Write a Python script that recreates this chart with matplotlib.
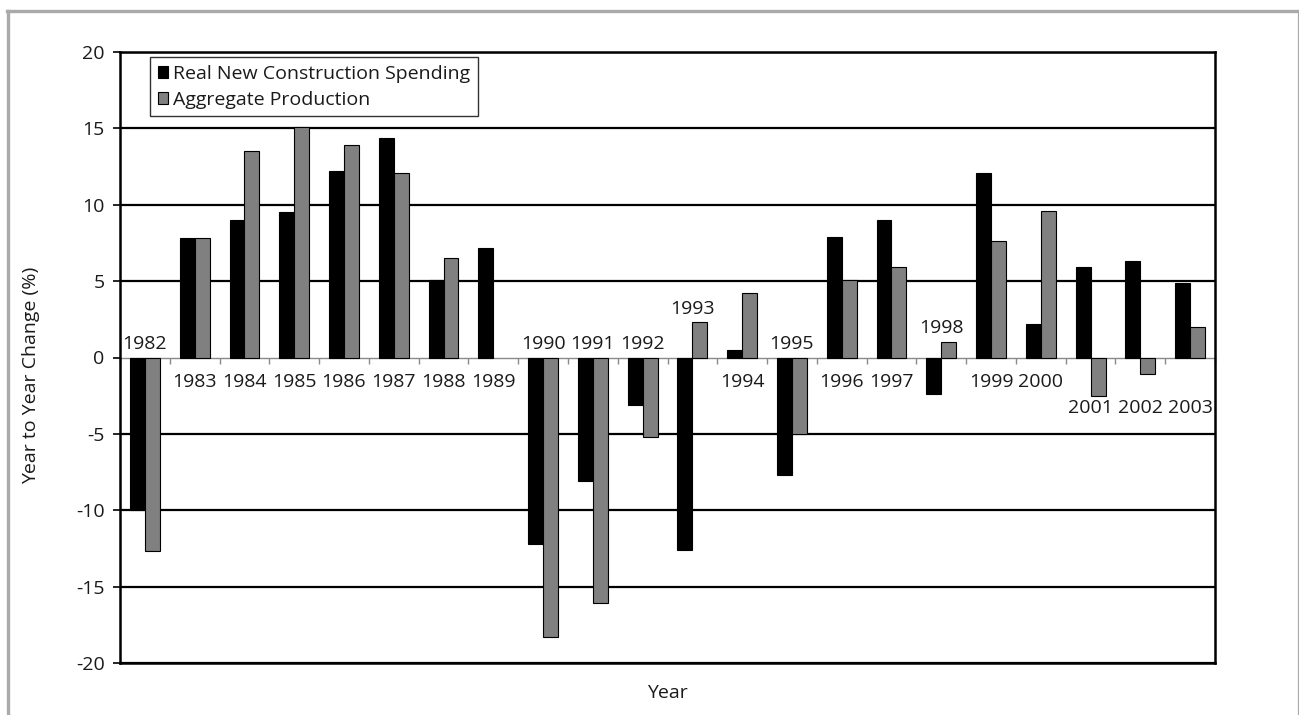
import matplotlib
matplotlib.use("Agg")
import matplotlib.pyplot as plt
from matplotlib.lines import Line2D
from matplotlib.patches import Patch
import numpy as np

plt.rcParams['font.family'] = ['Open Sans', 'DejaVu Sans']

years = ['1982', '1983', '1984', '1985', '1986', '1987', '1988', '1989',
         '1990', '1991', '1992', '1993', '1994', '1995', '1996', '1997',
         '1998', '1999', '2000', '2001', '2002', '2003']
construction = [-10.0, 7.8, 9.0, 9.5, 12.2, 14.4, 5.1, 7.2,
                -12.2, -8.1, -3.1, -12.6, 0.5, -7.7, 7.9, 9.0,
                -2.4, 12.1, 2.2, 5.9, 6.3, 4.9]
# no aggregate production figure is shown for 1989
aggregate = [-12.7, 7.8, 13.5, 15.1, 13.9, 12.1, 6.5, np.nan,
             -18.3, -16.1, -5.2, 2.3, 4.2, -5.0, 5.1, 5.9,
             1.0, 7.6, 9.6, -2.5, -1.1, 2.0]
series_names = ['Real New Construction Spending', 'Aggregate Production']

# where each year label sits: above the bars, below them, or in the deeper row
label_place = ['up', 'down', 'down', 'down', 'down', 'down', 'down', 'down',
               'up', 'up', 'up', 'up', 'down', 'up', 'down', 'down',
               'up', 'down', 'down', 'deep', 'deep', 'deep']

W, H, DPI = 1299, 715, 100
FS = 14
TXT = '#1a1a1a'
fig = plt.figure(figsize=(W / DPI, H / DPI), dpi=DPI)
ax = fig.add_axes([120 / W, 1 - 663 / H, (1215 - 120) / W, (663 - 52) / H])

x = np.arange(len(years))
bw = 0.3
ax.bar(x - bw / 2, construction, width=bw, color='black', edgecolor='black',
       linewidth=0.8, zorder=3)
ax.bar(x + bw / 2, aggregate, width=bw, color='#808080', edgecolor='black',
       linewidth=0.8, zorder=3)

ax.set_xlim(-0.5, len(years) - 0.5)
ax.set_ylim(-20, 20)
ax.set_yticks(np.arange(-20, 21, 5))
ax.set_yticklabels([str(v) for v in range(-20, 21, 5)])
for v in range(-20, 21, 5):
    if v != 0:
        ax.axhline(v, color='black', linewidth=1.6, zorder=1)

# zero axis with small category separator ticks
ax.spines['bottom'].set_position(('data', 0))
ax.spines['bottom'].set_color('#8a8a8a')
ax.spines['bottom'].set_linewidth(1.0)
ax.spines['bottom'].set_zorder(2)
ax.set_xticks(np.arange(len(years) + 1) - 0.5)
ax.set_xticklabels([])
ax.tick_params(axis='x', direction='out', length=4, width=1, color='#8a8a8a')
ax.tick_params(axis='y', direction='out', length=5, width=1.2, color='black',
               labelsize=FS, pad=6, labelcolor=TXT)
for side in ('left', 'top', 'right'):
    ax.spines[side].set_linewidth(1.8)
    ax.spines[side].set_color('black')
ax.plot([0, 1], [0, 0], transform=ax.transAxes, color='black',
        linewidth=1.8, clip_on=False, zorder=4)

# year labels next to each pair of bars
deep_level = min(np.nanmin([c, a]) for c, a, p in
                 zip(construction, aggregate, label_place) if p == 'deep')
for xi, yr, c, a, p in zip(x, years, construction, aggregate, label_place):
    if p == 'up':
        top = max(0, np.nanmax([c, a]))
        ax.annotate(yr, xy=(xi, top), xytext=(0, 3.5),
                    textcoords='offset points', ha='center', va='bottom',
                    fontsize=FS, color=TXT)
    elif p == 'down':
        bottom = min(0, np.nanmin([c, a]))
        ax.annotate(yr, xy=(xi, bottom), xytext=(0, -11),
                    textcoords='offset points', ha='center', va='top',
                    fontsize=FS, color=TXT)
    else:
        ax.annotate(yr, xy=(xi, deep_level), xytext=(0, -2.5),
                    textcoords='offset points', ha='center', va='top',
                    fontsize=FS, color=TXT)

ax.set_ylabel('Year to Year Change (%)', fontsize=FS, color=TXT)
ax.yaxis.set_label_coords(-0.073, 0.471)
ax.set_xlabel('Year', fontsize=FS, color=TXT)
ax.xaxis.set_label_coords(0.5, -0.034)

handles = [Patch(facecolor='black', edgecolor='black', linewidth=0.8),
           Patch(facecolor='#808080', edgecolor='black', linewidth=0.8)]
leg = fig.legend(handles, series_names, loc='upper left',
                 bbox_to_anchor=(150 / W, 1 - 57 / H), fontsize=FS,
                 frameon=True, fancybox=False, shadow=False, borderaxespad=0,
                 handlelength=0.55, handleheight=0.55, handletextpad=0.25,
                 labelspacing=0.4, borderpad=0.4)
leg.get_frame().set_edgecolor('black')
leg.get_frame().set_linewidth(1.0)
for t in leg.get_texts():
    t.set_color(TXT)

# grey page frame
frame_col = '#aaaaab'
fig.add_artist(Line2D([7 / W, 1], [1 - 11 / H, 1 - 11 / H], color=frame_col,
                      linewidth=2.4, transform=fig.transFigure))
fig.add_artist(Line2D([8 / W, 8 / W], [0, 1 - 11 / H], color=frame_col,
                      linewidth=2.4, transform=fig.transFigure))
fig.add_artist(Line2D([1297.5 / W, 1297.5 / W], [0, 1 - 11 / H], color=frame_col,
                      linewidth=0.9, transform=fig.transFigure))

fig.savefig('out.png', dpi=DPI)
